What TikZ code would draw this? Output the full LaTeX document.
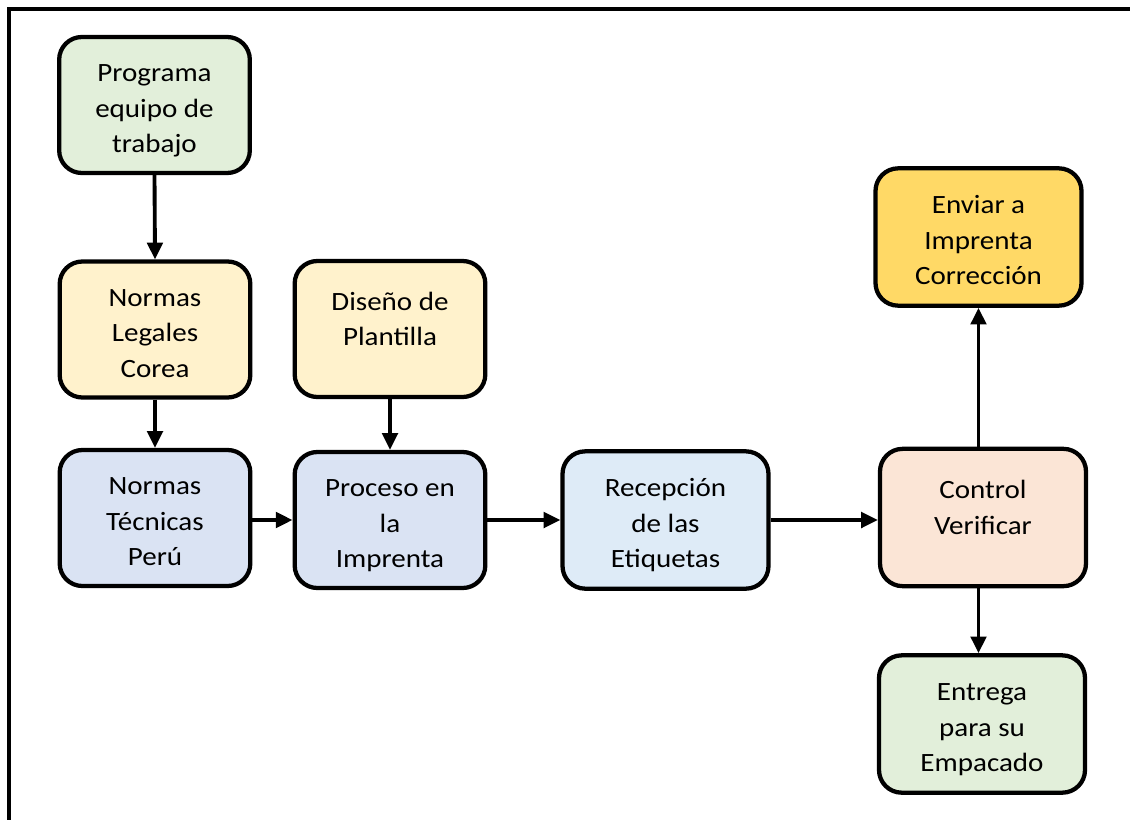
\documentclass[tikz,border=0pt]{standalone}
\usepackage{fontspec}
\setmainfont{Carlito}[FakeStretch=1.1]
\usetikzlibrary{arrows.meta}
\definecolor{cgreen}{HTML}{E2EFDA}
\definecolor{cyellow}{HTML}{FFF2CC}
\definecolor{cblue}{HTML}{DAE3F3}
\definecolor{clblue}{HTML}{DEEBF7}
\definecolor{corange}{HTML}{FBE5D6}
\definecolor{cgold}{HTML}{FFD966}
\newcommand{\txtfont}{\fontsize{19.8pt}{26.6pt}\selectfont}
\tikzset{
  box/.style={draw, line width=3.2pt, rounded corners=17pt, inner sep=0pt},
  narrowbox/.style={box, minimum width=143pt, minimum height=102pt},
  widebox/.style={box, minimum width=154.5pt, minimum height=103pt},
  txt/.style={align=center, inner sep=0pt, font=\txtfont},
  threeline/.style={txt, yshift=-4pt},
  twoline/.style={txt, yshift=6pt},
  arr/.style={line width=2.9pt, -{Triangle[length=12.5pt,width=11.5pt]}},
  frame/.style={line width=2.7pt, line join=miter}
}
\begin{document}
\begin{tikzpicture}[x=0.75pt, y=-0.75pt]
\useasboundingbox (0,0) rectangle (1130,820);
\draw[frame] (1130,9) -- (9,9) -- (9,820);

\node[narrowbox, fill=cgreen] (prog) at (154.5,105) {};
\node[narrowbox, fill=cyellow] (legal) at (155,329.5) {};
\node[narrowbox, fill=cyellow] (dise) at (390,329) {};
\node[narrowbox, fill=cblue] (tec) at (155,518) {};
\node[narrowbox, fill=cblue] (proc) at (390,520) {};
\node[widebox, fill=clblue] (rec) at (665.5,520) {};
\node[widebox, fill=corange] (ctl) at (983,517.5) {};
\node[widebox, fill=cgold] (env) at (978.5,237) {};
\node[widebox, fill=cgreen] (ent) at (982,724) {};

\node[threeline] (prog-t) at (prog.center) {\strut Programa\\\strut equipo de\\\strut trabajo};
\node[threeline] (legal-t) at (legal.center) {\strut Normas\\\strut Legales\\\strut Corea};
\node[twoline] (dise-t) at (dise.center) {\strut Diseño de\\\strut Plantilla};
\node[threeline] (tec-t) at (tec.center) {\strut Normas\\\strut Técnicas\\\strut Perú};
\node[threeline] (proc-t) at (proc.center) {\strut Proceso en\\\strut la\\\strut Imprenta};
\node[threeline] (rec-t) at (rec.center) {\strut Recepción\\\strut de las\\\strut Etiquetas};
\node[twoline] (ctl-t) at (ctl.center) {\strut Control\\\strut Verificar};
\node[threeline] (env-t) at (env.center) {\strut Enviar a\\\strut Imprenta\\\strut Corrección};
\node[threeline] (ent-t) at (ent.center) {\strut Entrega\\\strut para su\\\strut Empacado};

\draw[arr] (prog.south) -- (legal.north);
\draw[arr] (legal.south) -- (tec.north);
\draw[arr] (dise.south) -- (proc.north);
\draw[arr] (tec.east |- proc.center) -- (proc.west);
\draw[arr] (proc.east) -- (rec.west);
\draw[arr] (rec.east) -- (rec.east -| ctl.west);
\draw[arr] (ctl.north -| env.south) -- (env.south);
\draw[arr] (ctl.south -| env.south) -- (ent.north -| env.south);
\end{tikzpicture}
\end{document}
